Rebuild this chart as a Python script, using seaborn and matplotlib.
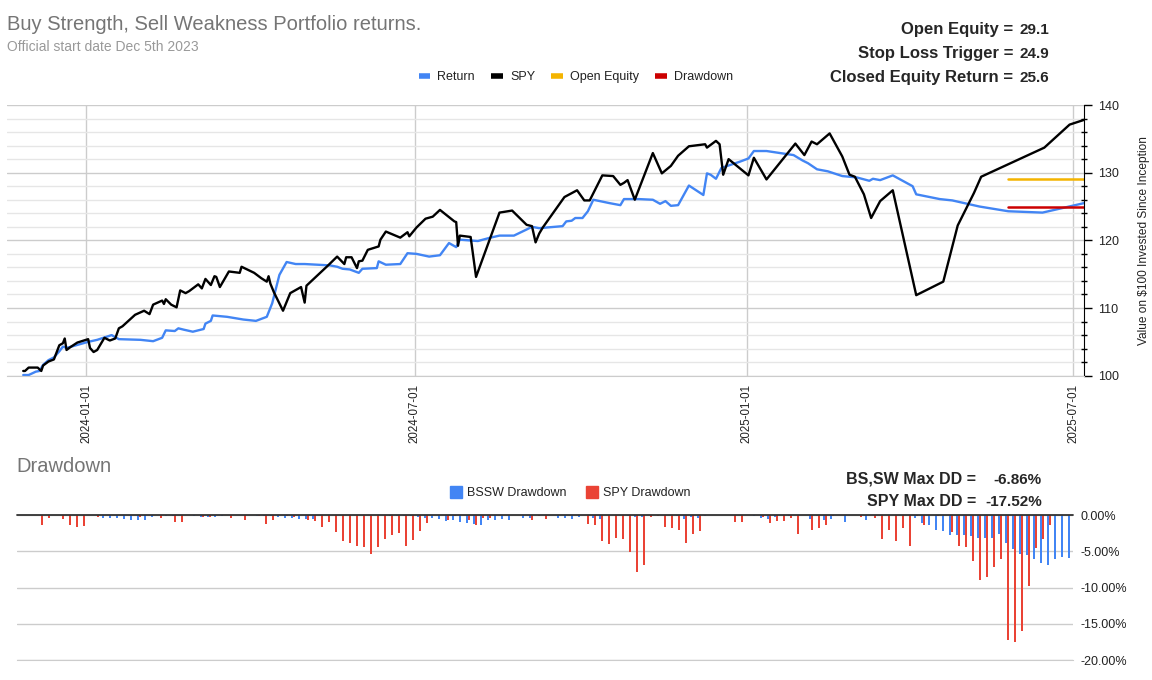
import pandas as pd
import seaborn as sns
import matplotlib.pyplot as plt
import matplotlib.dates as mdates
from matplotlib.lines import Line2D
from matplotlib.ticker import FuncFormatter, MultipleLocator

sns.set_style('white')
plt.rcParams['font.family'] = ['Liberation Sans', 'DejaVu Sans']

# Portfolio value (Return) on $100
return_dates = [
    '2023-11-27', '2023-11-30', '2023-12-04', '2023-12-06', '2023-12-08', '2023-12-11', '2023-12-14',
    '2023-12-17', '2023-12-19', '2023-12-21', '2023-12-25', '2024-01-02', '2024-01-07', '2024-01-15',
    '2024-01-19', '2024-01-31', '2024-02-07', '2024-02-12', '2024-02-14', '2024-02-19', '2024-02-21',
    '2024-02-24', '2024-02-29', '2024-03-06', '2024-03-07', '2024-03-10', '2024-03-11', '2024-03-19',
    '2024-03-28', '2024-04-04', '2024-04-10', '2024-04-13', '2024-04-17', '2024-04-21', '2024-04-26',
    '2024-05-01', '2024-05-15', '2024-05-19', '2024-05-22', '2024-05-26', '2024-05-31', '2024-06-02',
    '2024-06-10', '2024-06-11', '2024-06-15', '2024-06-23', '2024-06-27', '2024-07-02', '2024-07-09',
    '2024-07-15', '2024-07-20', '2024-07-24', '2024-07-26', '2024-08-05', '2024-08-12', '2024-08-17',
    '2024-08-25', '2024-09-01', '2024-09-04', '2024-09-08', '2024-09-21', '2024-09-23', '2024-09-26',
    '2024-09-28', '2024-10-02', '2024-10-05', '2024-10-08', '2024-10-17', '2024-10-23', '2024-10-25',
    '2024-11-02', '2024-11-10', '2024-11-14', '2024-11-17', '2024-11-20', '2024-11-24', '2024-11-30',
    '2024-12-08', '2024-12-10', '2024-12-12', '2024-12-15', '2024-12-18', '2024-12-28', '2025-01-02',
    '2025-01-05', '2025-01-12', '2025-01-27', '2025-02-01', '2025-02-04', '2025-02-09', '2025-02-15',
    '2025-02-23', '2025-03-03', '2025-03-10', '2025-03-12', '2025-03-16', '2025-03-23', '2025-04-03',
    '2025-04-05', '2025-04-18', '2025-04-25', '2025-05-10', '2025-05-26', '2025-06-14', '2025-07-07',
]
return_values = [
    100.1, 100.1, 100.6, 100.7, 101.6, 102.3, 102.7,
    103.6, 104.3, 104.1, 104.4, 105.0, 105.3, 106.0,
    105.4, 105.3, 105.1, 105.6, 106.7, 106.6, 107.0,
    106.8, 106.5, 106.9, 107.7, 108.1, 108.9, 108.7,
    108.3, 108.1, 108.7, 110.7, 114.9, 116.8, 116.5,
    116.5, 116.3, 116.1, 115.8, 115.7, 115.2, 115.8,
    115.9, 116.9, 116.4, 116.5, 118.1, 118.0, 117.6,
    117.8, 119.6, 119.0, 120.1, 119.9, 120.4, 120.7,
    120.7, 121.6, 122.0, 121.8, 122.1, 122.8, 122.9,
    123.3, 123.3, 124.3, 126.0, 125.5, 125.2, 126.1,
    126.1, 126.0, 125.4, 125.8, 125.1, 125.2, 128.1,
    126.7, 129.9, 129.7, 129.1, 130.7, 131.6, 132.1,
    133.2, 133.2, 132.6, 131.8, 131.4, 130.5, 130.2,
    129.5, 129.3, 128.8, 129.1, 128.9, 129.6, 128.0,
    126.8, 126.1, 125.9, 125.0, 124.3, 124.1, 125.5,
]

# SPY value on $100
spy_dates = [
    '2023-11-27', '2023-11-28', '2023-11-30', '2023-12-05', '2023-12-07', '2023-12-08', '2023-12-11',
    '2023-12-14', '2023-12-17', '2023-12-19', '2023-12-20', '2023-12-21', '2023-12-23', '2023-12-27',
    '2024-01-02', '2024-01-03', '2024-01-05', '2024-01-07', '2024-01-11', '2024-01-14', '2024-01-17',
    '2024-01-19', '2024-01-21', '2024-01-28', '2024-02-02', '2024-02-05', '2024-02-07', '2024-02-12',
    '2024-02-13', '2024-02-14', '2024-02-17', '2024-02-20', '2024-02-22', '2024-02-25', '2024-02-27',
    '2024-03-03', '2024-03-05', '2024-03-07', '2024-03-10', '2024-03-12', '2024-03-13', '2024-03-15',
    '2024-03-20', '2024-03-26', '2024-03-27', '2024-04-03', '2024-04-07', '2024-04-10', '2024-04-11',
    '2024-04-12', '2024-04-14', '2024-04-19', '2024-04-23', '2024-04-29', '2024-05-01', '2024-05-02',
    '2024-05-14', '2024-05-19', '2024-05-23', '2024-05-24', '2024-05-27', '2024-05-30', '2024-05-31',
    '2024-06-02', '2024-06-05', '2024-06-11', '2024-06-12', '2024-06-15', '2024-06-23', '2024-06-27',
    '2024-06-28', '2024-07-02', '2024-07-07', '2024-07-11', '2024-07-15', '2024-07-23', '2024-07-24',
    '2024-07-25', '2024-07-26', '2024-08-01', '2024-08-04', '2024-08-17', '2024-08-24', '2024-09-01',
    '2024-09-04', '2024-09-06', '2024-09-08', '2024-09-10', '2024-09-22', '2024-09-29', '2024-10-03',
    '2024-10-06', '2024-10-13', '2024-10-19', '2024-10-23', '2024-10-25', '2024-10-27', '2024-10-31',
    '2024-11-10', '2024-11-15', '2024-11-20', '2024-11-24', '2024-11-30', '2024-12-09', '2024-12-10',
    '2024-12-15', '2024-12-17', '2024-12-19', '2024-12-22', '2025-01-02', '2025-01-05', '2025-01-12',
    '2025-01-28', '2025-02-02', '2025-02-06', '2025-02-09', '2025-02-16', '2025-02-23', '2025-02-27',
    '2025-03-02', '2025-03-07', '2025-03-11', '2025-03-16', '2025-03-23', '2025-04-05', '2025-04-20',
    '2025-04-28', '2025-05-07', '2025-05-11', '2025-06-15', '2025-06-29', '2025-07-07',
]
spy_values = [
    100.7, 100.7, 101.2, 101.2, 100.7, 101.5, 102.1,
    102.4, 104.5, 104.8, 105.5, 103.8, 104.2, 104.9,
    105.4, 104.1, 103.5, 103.8, 105.6, 105.2, 105.5,
    107.0, 107.3, 109.0, 109.6, 109.1, 110.5, 111.1,
    110.6, 111.3, 110.5, 110.1, 112.6, 112.2, 112.5,
    113.5, 112.9, 114.3, 113.4, 114.7, 114.6, 113.1,
    115.4, 115.2, 116.1, 115.2, 114.4, 113.9, 114.7,
    113.6, 112.3, 109.6, 112.2, 113.1, 110.8, 113.3,
    116.3, 117.6, 116.5, 117.5, 117.5, 115.9, 116.9,
    117.0, 118.6, 119.1, 120.1, 121.3, 120.4, 121.2,
    120.6, 121.9, 123.2, 123.5, 124.5, 122.8, 122.7,
    119.2, 120.7, 120.5, 114.6, 124.1, 124.4, 122.3,
    122.1, 119.7, 121.0, 121.9, 126.4, 127.4, 125.9,
    125.9, 129.6, 129.5, 128.2, 128.5, 128.9, 126.0,
    132.9, 129.9, 131.0, 132.5, 133.9, 134.2, 133.7,
    134.7, 134.2, 129.7, 132.0, 129.6, 132.2, 129.0,
    134.3, 132.6, 134.6, 134.2, 135.8, 132.4, 129.7,
    129.4, 126.8, 123.3, 125.8, 127.4, 111.9, 113.9,
    122.2, 127.0, 129.4, 133.7, 137.1, 137.8,
]

# open position levels (shown from the last entry date)
level_dates = ['2025-05-26', '2025-07-07']
open_equity = 29.1
stop_loss_trigger = 24.9
closed_equity_return = 25.6

# drawdown per period, in percent
bssw_dd = [
    0, 0, 0, 0, 0, 0, 0, 0, 0, 0,
    0, 0, -0.46, -0.46, -0.46, -0.6, -0.73, -0.73, -0.73, -0.3,
    0, -0.2, -0.2, 0, 0, -0.2, -0.3, -0.3, -0.3, -0.2,
    0, 0, 0, 0, -0.2, -0.2, -0.2, -0.3, -0.46, -0.46,
    -0.6, -0.6, -0.6, 0, 0, 0, 0, 0, 0, 0,
    0, 0, 0, -0.2, -0.2, -0.2, -0.2, -0.3, -0.46, -0.46,
    -0.6, -0.87, -0.73, -1.0, -1.15, -1.3, -1.4, -0.73, -0.73, -0.6,
    -0.73, 0, -0.46, -0.46, 0, 0, 0, -0.46, -0.46, -0.6,
    -0.3, 0, -0.46, -0.6, 0, 0, 0, -0.2, -0.3, -0.3,
    0, 0, 0, 0, -0.2, -0.6, -0.3, -0.46, -0.2, 0,
    0, 0, 0, 0, 0, -0.2, -0.46, -0.6, -0.3, 0,
    -0.2, 0, 0, -0.55, -0.2, -0.7, -0.6, 0, -1.0, 0,
    0, -0.73, 0, 0, 0, 0, 0, 0, -0.46, -1.15,
    -1.4, -2.0, -2.25, -2.8, -2.8, -2.8, -2.9, -3.2, -3.1, -3.2,
    -2.65, -3.9, -4.7, -5.3, -5.55, -6.1, -6.65, -6.86, -6.1, -5.8,
    -5.95,
]
spy_dd = [
    0, 0, 0, -1.4, -0.46, 0, -0.6, -1.4, -1.7, -1.55,
    0, -0.3, 0, 0, 0, 0, 0, -0.3, 0, 0,
    -0.46, 0, -1.0, -1.0, 0, 0, -0.3, -0.3, 0, 0,
    -0.46, 0, -0.73, 0, -0.2, -1.3, -0.73, 0, -0.2, -0.3,
    0, -0.73, -0.87, -1.7, -1.0, -2.4, -3.6, -3.8, -4.3, -4.45,
    -5.3, -4.45, -3.35, -2.8, -2.5, -4.3, -3.5, -2.25, -1.15, 0,
    0, -0.73, -0.2, 0, -0.73, -1.4, -0.46, -0.46, 0, 0,
    0, 0, 0, -0.73, -0.2, -0.6, 0, 0, 0, 0,
    0, -1.3, -1.4, -3.6, -4.0, -3.1, -3.35, -5.1, -7.9, -6.9,
    -0.3, -0.2, -1.7, -1.8, -2.1, -3.8, -2.65, -2.25, 0, 0,
    0, 0, -1.0, -1.0, 0, 0, -0.3, -1.15, -0.87, -0.87,
    -0.46, -2.65, 0, -2.1, -1.8, -1.4, -0.2, 0, 0, 0,
    -0.3, 0, -0.46, -3.35, -2.0, -3.6, -1.8, -4.2, -0.2, -1.4,
    0, -0.2, 0, -2.4, -4.3, -4.45, -6.4, -9.0, -8.6, -7.2,
    -6.1, -17.25, -17.52, -15.9, -9.8, -4.6, -3.35, -1.4, 0, 0,
    0,
]
bssw_max_dd = -6.86
spy_max_dd = -17.52

BLUE = '#4285F4'
YELLOW = '#F4B400'
DARK_RED = '#CC0000'
BAR_RED = '#EA4335'
GRID = '#cccccc'

W, H = 1152, 680
fig = plt.figure(figsize=(W / 100, H / 100), dpi=100)


def px_box(left, top, right, bottom):
    return [left / W, 1 - bottom / H, (right - left) / W, (bottom - top) / H]


# ---- top chart: value lines
ax = fig.add_axes(px_box(7, 105, 1084, 375.7))
ret_df = pd.DataFrame({'date': pd.to_datetime(return_dates), 'value': return_values})
spy_df = pd.DataFrame({'date': pd.to_datetime(spy_dates), 'value': spy_values})
sns.lineplot(data=ret_df, x='date', y='value', ax=ax, color=BLUE, linewidth=1.7, legend=False)
sns.lineplot(data=spy_df, x='date', y='value', ax=ax, color='black', linewidth=1.7, legend=False)
lvl = pd.to_datetime(level_dates)
ax.plot(lvl, [100 + open_equity] * 2, color=YELLOW, linewidth=1.8)
ax.plot(lvl, [100 + stop_loss_trigger] * 2, color=DARK_RED, linewidth=1.8)

ax.set_xlim(pd.Timestamp('2023-11-18'), pd.Timestamp('2025-07-07'))
ax.set_ylim(100, 140)
ax.set_xticks(pd.to_datetime(['2024-01-01', '2024-07-01', '2025-01-01', '2025-07-01']))
ax.xaxis.set_major_formatter(mdates.DateFormatter('%Y-%m-%d'))
ax.tick_params(axis='x', length=0, pad=6, labelsize=8.3, labelrotation=90, labelcolor='#222222')
ax.yaxis.tick_right()
ax.yaxis.set_major_locator(MultipleLocator(10))
ax.yaxis.set_minor_locator(MultipleLocator(2))
ax.tick_params(axis='y', which='major', right=True, length=6, width=1, color='black',
               pad=4, labelsize=9, labelcolor='#222222')
ax.tick_params(axis='y', which='minor', right=True, length=4, width=1, color='black', direction='inout')
ax.grid(axis='y', which='major', color=GRID, linewidth=1)
ax.grid(axis='y', which='minor', color='#e6e6e6', linewidth=1)
ax.grid(axis='x', which='major', color=GRID, linewidth=1)
ax.set_axisbelow(True)
for side in ['top', 'left']:
    ax.spines[side].set_visible(False)
ax.spines['bottom'].set_color(GRID)
ax.spines['right'].set_color('black')
ax.set_xlabel('')
ax.set_ylabel('Value on $100 Invested Since Inception', fontsize=8.6, color='#222222')
ax.yaxis.set_label_position('right')
ax.yaxis.set_label_coords(1.05, 0.5)

# ---- bottom chart: drawdown bars
n = len(bssw_dd)
dd_df = pd.DataFrame({
    'period': list(range(n)) * 2,
    'drawdown': bssw_dd + spy_dd,
    'series': ['BSSW Drawdown'] * n + ['SPY Drawdown'] * n,
})
ax2 = fig.add_axes(px_box(16.7, 515, 1073.3, 660.3))
sns.barplot(data=dd_df, x='period', y='drawdown', hue='series',
            palette={'BSSW Drawdown': BLUE, 'SPY Drawdown': BAR_RED},
            width=0.6, saturation=1, errorbar=None, legend=False,
            linewidth=0, edgecolor='none', ax=ax2)
ax2.set_xlim(-0.5, n - 0.5)
ax2.set_ylim(-20, 0)
ax2.set_yticks([0, -5, -10, -15, -20])
ax2.yaxis.set_major_formatter(FuncFormatter(lambda v, p: f'{v:.2f}%'))
ax2.yaxis.tick_right()
ax2.tick_params(axis='y', length=0, pad=5, labelsize=9, labelcolor='#222222')
ax2.set_xticks([])
ax2.set_xlabel('')
ax2.set_ylabel('')
ax2.grid(axis='y', color=GRID, linewidth=1)
ax2.set_axisbelow(True)
for side in ['top', 'left', 'right']:
    ax2.spines[side].set_visible(False)
ax2.spines['bottom'].set_color(GRID)
ax2.axhline(0, color='#333333', linewidth=1.3, zorder=5, clip_on=False)

# ---- titles and text
fig.text(7 / W, 1 - 25 / H, 'Buy Strength, Sell Weakness Portfolio returns.',
         fontsize=14.5, color='#757575', va='center', ha='left')
fig.text(7 / W, 1 - 47 / H, 'Official start date Dec 5th 2023',
         fontsize=10, color='#999999', va='center', ha='left')
fig.text(16 / W, 1 - 467 / H, 'Drawdown', fontsize=14.5, color='#757575', va='center', ha='left')

top_stats = [('Open Equity =', open_equity), ('Stop Loss Trigger =', stop_loss_trigger),
             ('Closed Equity Return =', closed_equity_return)]
for i, (label, val) in enumerate(top_stats):
    y = 1 - (34 + 24 * i) / H
    fig.text(1013 / W, y, label, fontsize=12, fontweight='bold', ha='right', va='baseline')
    fig.text(1049 / W, y, f'{val:.1f}', fontsize=11, fontweight='bold', ha='right', va='baseline')

dd_stats = [('BS,SW Max DD =', bssw_max_dd), ('SPY Max DD =', spy_max_dd)]
for i, (label, val) in enumerate(dd_stats):
    y = 1 - (484 + 22 * i) / H
    fig.text(976 / W, y, label, fontsize=11.5, fontweight='bold', ha='right', va='baseline')
    fig.text(1042 / W, y, f'{val:.2f}%', fontsize=11, fontweight='bold', ha='right', va='baseline')

# ---- legends
top_handles = [Line2D([], [], color=c, linewidth=4, solid_capstyle='butt')
               for c in [BLUE, 'black', YELLOW, DARK_RED]]
fig.legend(top_handles, ['Return', 'SPY', 'Open Equity', 'Drawdown'],
           loc='center', bbox_to_anchor=(576 / W, 1 - 77 / H), ncol=4, frameon=False,
           fontsize=9, handlelength=0.9, handletextpad=0.6, columnspacing=1.3, labelcolor='#222222')
dd_handles = [Line2D([], [], marker='s', linestyle='', markersize=8, markerfacecolor=c, markeredgecolor=c)
              for c in [BLUE, BAR_RED]]
fig.legend(dd_handles, ['BSSW Drawdown', 'SPY Drawdown'],
           loc='center', bbox_to_anchor=(570 / W, 1 - 493 / H), ncol=2, frameon=False,
           fontsize=9, handlelength=1.0, handletextpad=0.4, columnspacing=1.5, labelcolor='#222222')

fig.savefig('out.png', dpi=100)
